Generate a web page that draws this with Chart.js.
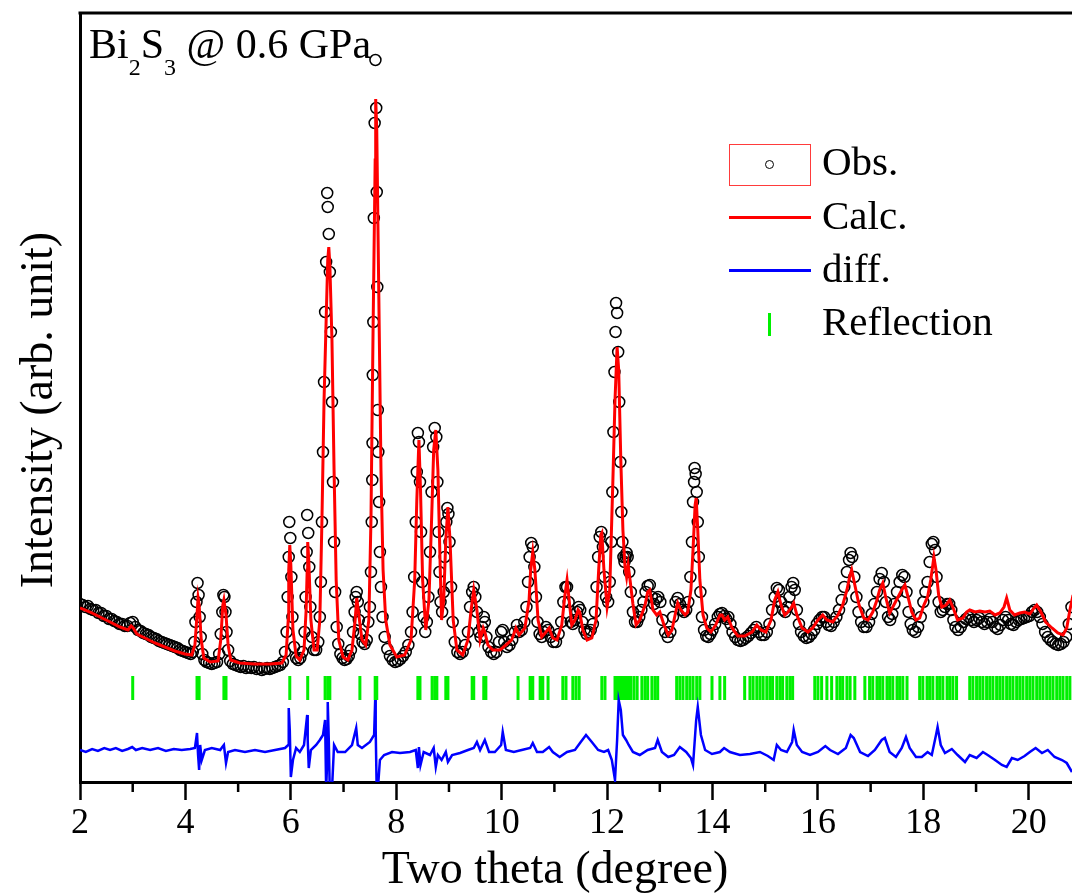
<!DOCTYPE html>
<html>
<head>
<meta charset="utf-8">
<script src="https://cdn.jsdelivr.net/npm/chart.js@4.4.0/dist/chart.umd.min.js"></script>
<style>
    html, body { margin: 0; padding: 0; background: #fff; }
    #wrap { position: relative; width: 1072px; height: 895px; overflow: hidden; font-family: 'Liberation Serif', 'Times New Roman', serif; color: #000; }
    #chart { position: absolute; left: 0; top: 0; }
    .txt { position: absolute; white-space: nowrap; line-height: 1; }
    .sub { font-size: 24px; position: relative; top: 17px; }
    .mark { position: absolute; box-sizing: border-box; }
    .axis-title { position: absolute; width: 500px; height: 46px; text-align: center; font-size: 46px; line-height: 1; white-space: nowrap; }
</style>
</head>
<body>
<div id="wrap">
    <canvas id="chart" width="1072" height="895"></canvas>
    <div class="txt" style="left:89px; top:23px; font-size:42px;">Bi<span class="sub">2</span>S<span class="sub">3</span> @ 0.6 GPa</div>

    <div class="mark" style="left:729px; top:144px; width:82px; height:42px; border:1.5px solid #ff3b3b;"></div>
    <div class="mark" style="left:765px; top:160px; width:9px; height:9px; border:1px solid #000; border-radius:50%;"></div>
    <div class="txt" style="left:822px; top:141px; font-size:41px;">Obs.</div>
    <div class="mark" style="left:729px; top:216px; width:82px; height:3px; background:#ff0000;"></div>
    <div class="txt" style="left:822px; top:195px; font-size:41px;">Calc.</div>
    <div class="mark" style="left:729px; top:269px; width:82px; height:3px; background:#0000ff;"></div>
    <div class="txt" style="left:822px; top:248px; font-size:41px;">diff.</div>
    <div class="mark" style="left:768px; top:313px; width:3px; height:23px; background:#00f000;"></div>
    <div class="txt" style="left:822px; top:301px; font-size:41px;">Reflection</div>

    <div class="axis-title" style="left:305px; top:845px;">Two theta (degree)</div>
    <div class="axis-title" style="left:-213px; top:387px; transform:rotate(-90deg);">Intensity (arb. unit)</div>
</div>
<script>
// two theta range shown (right edge of the frame is cut off)
const X_MIN = 2;
const X_MAX = 20.82;
const Y_MIN = 0;
const Y_MAX = 769;
const MAJOR_STEP = 2;
const MINOR_TICKS = [3, 5, 7, 9, 11, 13, 15, 17, 19];

// observed pattern [2theta, intensity]
const obsPoints = [
    [2.00,178],[2.05,177],[2.10,175],[2.15,176],[2.20,173],[2.25,172],[2.30,172],[2.35,169],[2.40,169],[2.45,166],
    [2.50,166],[2.55,163],[2.60,163],[2.65,161],[2.70,160],[2.75,158],[2.80,158],[2.85,156],[2.90,156],[2.95,159],
    [3.00,160],[3.05,155],[3.10,152],[3.15,151],[3.20,149],[3.25,148],[3.30,147],[3.35,145],[3.40,144],[3.45,143],
    [3.50,141],[3.55,140],[3.60,139],[3.65,138],[3.70,137],[3.75,136],[3.80,135],[3.85,134],[3.90,132],[3.95,131],
    [4.00,130],[4.05,129],[4.10,128],[4.14,130],[4.17,140],[4.19,160],[4.21,180],[4.23,199],[4.25,187],[4.27,165],
    [4.29,145],[4.32,128],[4.36,122],[4.40,120],[4.45,119],[4.50,118],[4.55,119],[4.60,120],[4.64,128],[4.67,148],
    [4.70,170],[4.72,187],[4.74,185],[4.76,170],[4.78,150],[4.81,132],[4.85,121],[4.90,118],[4.95,117],[5.00,116],
    [5.05,115],[5.10,116],[5.15,114],[5.20,115],[5.25,114],[5.30,115],[5.35,113],[5.40,114],[5.45,112],[5.50,113],
    [5.55,114],[5.60,113],[5.65,114],[5.70,115],[5.75,116],[5.80,117],[5.85,120],[5.89,130],[5.92,150],[5.94,185],
    [5.96,225],[5.97,260],[5.99,244],[6.01,205],[6.03,165],[6.06,135],[6.10,124],[6.14,122],[6.18,124],[6.22,130],
    [6.26,150],[6.28,185],[6.30,230],[6.31,267],[6.33,249],[6.35,215],[6.37,175],[6.40,145],[6.44,132],[6.48,132],
    [6.52,140],[6.55,165],[6.57,200],[6.59,260],[6.61,330],[6.63,400],[6.65,470],[6.67,520],[6.69,589],[6.70,575],
    [6.72,548],[6.74,510],[6.76,450],[6.78,380],[6.80,300],[6.82,240],[6.84,190],[6.87,155],[6.90,138],[6.94,128],
    [6.98,124],[7.02,122],[7.06,123],[7.10,126],[7.14,132],[7.18,150],[7.21,170],[7.23,185],[7.25,190],[7.27,180],
    [7.29,162],[7.32,148],[7.36,140],[7.40,138],[7.44,142],[7.47,160],[7.50,175],[7.52,210],[7.535,260],[7.545,302],
    [7.55,339],[7.555,407],[7.565,460],[7.575,564],[7.59,659],[7.605,722],[7.62,674],[7.63,590],[7.64,495],[7.65,372],
    [7.66,330],[7.675,280],[7.69,230],[7.71,195],[7.74,165],[7.78,145],[7.83,133],[7.88,126],[7.93,122],[7.98,120],
    [8.03,121],[8.08,123],[8.13,126],[8.18,130],[8.23,137],[8.28,150],[8.31,170],[8.34,205],[8.37,260],[8.39,310],
    [8.41,349],[8.43,340],[8.45,300],[8.47,250],[8.49,200],[8.52,165],[8.55,150],[8.58,160],[8.61,185],[8.64,230],
    [8.67,290],[8.70,335],[8.73,354],[8.76,345],[8.78,300],[8.80,250],[8.82,210],[8.84,180],[8.87,170],[8.90,190],
    [8.92,225],[8.95,260],[8.97,274],[8.99,268],[9.01,240],[9.04,195],[9.07,160],[9.11,140],[9.16,130],[9.21,128],
    [9.26,130],[9.31,137],[9.36,150],[9.40,175],[9.44,190],[9.47,195],[9.50,185],[9.53,170],[9.57,150],[9.60,145],
    [9.63,155],[9.66,165],[9.68,160],[9.71,145],[9.75,135],[9.80,130],[9.85,128],[9.90,130],[9.95,140],[9.99,150],
    [10.02,152],[10.05,140],[10.10,135],[10.15,137],[10.20,142],[10.25,150],[10.29,157],[10.33,150],[10.38,152],[10.43,160],
    [10.47,175],[10.50,200],[10.53,225],[10.56,239],[10.59,235],[10.62,215],[10.65,185],[10.68,160],[10.72,148],[10.76,145],
    [10.80,150],[10.84,155],[10.88,152],[10.93,145],[10.98,140],[11.03,140],[11.08,148],[11.13,160],[11.17,180],[11.21,195],
    [11.24,195],[11.27,180],[11.31,160],[11.35,158],[11.39,162],[11.43,170],[11.46,175],[11.49,172],[11.53,160],[11.57,152],
    [11.61,148],[11.65,150],[11.69,152],[11.73,158],[11.77,170],[11.80,195],[11.83,225],[11.86,245],[11.89,250],[11.92,235],
    [11.95,205],[11.98,185],[12.02,180],[12.05,200],[12.08,240],[12.10,290],[12.12,350],[12.14,410],[12.16,450],[12.17,479],
    [12.19,469],[12.21,430],[12.23,380],[12.25,320],[12.27,270],[12.29,240],[12.31,225],[12.33,220],[12.35,225],[12.37,229],
    [12.39,225],[12.42,210],[12.45,190],[12.49,170],[12.53,160],[12.57,160],[12.61,165],[12.65,172],[12.69,180],[12.73,190],
    [12.77,196],[12.81,197],[12.85,185],[12.89,178],[12.93,183],[12.97,185],[13.01,180],[13.05,162],[13.10,150],[13.15,145],
    [13.20,150],[13.25,165],[13.30,180],[13.34,184],[13.38,178],[13.42,172],[13.46,170],[13.50,172],[13.54,180],[13.58,205],
    [13.61,240],[13.63,280],[13.65,300],[13.66,314],[13.68,308],[13.70,290],[13.72,260],[13.74,225],[13.77,190],[13.80,165],
    [13.84,152],[13.88,146],[13.92,145],[13.96,148],[14.00,152],[14.05,158],[14.10,165],[14.14,168],[14.18,169],[14.22,166],
    [14.26,163],[14.30,165],[14.34,158],[14.38,150],[14.43,145],[14.48,142],[14.53,141],[14.58,142],[14.63,144],[14.68,146],
    [14.73,149],[14.78,152],[14.83,155],[14.88,150],[14.93,147],[14.98,147],[15.03,150],[15.08,158],[15.13,172],[15.18,185],
    [15.22,194],[15.26,192],[15.30,180],[15.34,172],[15.38,170],[15.42,175],[15.46,185],[15.50,195],[15.53,199],[15.56,192],
    [15.60,172],[15.64,158],[15.68,150],[15.73,146],[15.78,144],[15.83,145],[15.88,148],[15.93,152],[15.98,158],[16.03,162],
    [16.08,165],[16.12,165],[16.16,160],[16.20,157],[16.25,156],[16.30,160],[16.35,165],[16.40,172],[16.45,182],[16.50,195],
    [16.55,210],[16.59,222],[16.62,229],[16.65,225],[16.69,205],[16.73,185],[16.77,170],[16.82,160],[16.87,155],[16.92,155],
    [16.97,160],[17.02,168],[17.07,178],[17.12,190],[17.17,203],[17.21,209],[17.25,200],[17.29,180],[17.33,165],[17.37,162],
    [17.41,168],[17.45,178],[17.50,190],[17.55,200],[17.60,207],[17.64,205],[17.68,190],[17.72,170],[17.76,158],[17.80,152],
    [17.85,150],[17.90,155],[17.95,165],[18.00,180],[18.04,190],[18.08,200],[18.12,220],[18.16,238],[18.19,240],[18.22,232],
    [18.25,205],[18.29,180],[18.33,170],[18.37,172],[18.41,175],[18.45,178],[18.49,178],[18.53,172],[18.57,162],[18.61,155],
    [18.66,152],[18.71,155],[18.76,160],[18.81,163],[18.86,165],[18.91,162],[18.96,160],[19.01,162],[19.06,164],[19.11,160],
    [19.16,158],[19.21,160],[19.26,163],[19.31,160],[19.36,155],[19.41,153],[19.46,157],[19.51,162],[19.56,165],[19.61,162],
    [19.66,158],[19.71,157],[19.76,160],[19.81,162],[19.86,163],[19.91,164],[19.96,165],[20.01,166],[20.06,170],[20.11,172],
    [20.16,170],[20.21,165],[20.26,158],[20.31,150],[20.36,145],[20.41,142],[20.46,140],[20.51,138],[20.56,137],[20.61,138],
    [20.66,140],[20.71,145],[20.76,158],[20.81,175]
];

// refined (calculated) profile
const calcPoints = [
    [2.00,174],[2.19,170],[2.38,165],[2.57,160],[2.76,155],[2.91,152],[2.97,156],[3.01,154],[3.08,148],[3.23,144],
    [3.42,139],[3.61,135],[3.80,131],[3.99,128],[4.12,127],[4.18,137],[4.22,167],[4.24,184],[4.26,177],[4.30,142],
    [4.35,124],[4.47,120],[4.62,121],[4.67,142],[4.71,177],[4.73,182],[4.77,167],[4.81,137],[4.86,122],[5.03,119],
    [5.32,118],[5.60,118],[5.83,119],[5.91,127],[5.95,162],[5.96,212],[5.98,237],[6.00,217],[6.04,152],[6.10,126],
    [6.17,122],[6.25,132],[6.29,172],[6.31,212],[6.32,240],[6.34,222],[6.38,162],[6.44,132],[6.50,132],[6.55,162],
    [6.59,262],[6.63,382],[6.67,462],[6.70,522],[6.72,535],[6.74,517],[6.78,442],[6.82,312],[6.86,202],[6.91,142],
    [6.99,125],[7.08,122],[7.16,132],[7.22,162],[7.25,184],[7.29,167],[7.35,142],[7.42,137],[7.48,162],[7.52,262],
    [7.56,452],[7.60,622],[7.61,683],[7.63,652],[7.67,482],[7.71,312],[7.75,212],[7.80,162],[7.88,137],[8.01,125],
    [8.16,127],[8.28,142],[8.35,202],[8.39,282],[8.43,342],[8.46,292],[8.50,202],[8.56,152],[8.62,182],[8.67,262],
    [8.71,332],[8.75,352],[8.79,312],[8.83,222],[8.86,162],[8.90,182],[8.94,242],[8.98,275],[9.02,242],[9.08,162],
    [9.15,132],[9.26,127],[9.36,142],[9.42,172],[9.47,192],[9.53,172],[9.59,142],[9.65,154],[9.68,150],[9.74,137],
    [9.83,132],[9.97,132],[10.08,137],[10.19,142],[10.27,154],[10.33,147],[10.44,154],[10.52,182],[10.55,212],[10.59,230],
    [10.63,212],[10.69,162],[10.76,145],[10.84,150],[10.90,154],[10.97,144],[11.05,142],[11.14,157],[11.20,187],[11.24,202],
    [11.28,182],[11.33,157],[11.39,162],[11.45,172],[11.48,170],[11.54,152],[11.62,142],[11.71,144],[11.79,162],[11.84,212],
    [11.88,247],[11.90,249],[11.94,212],[12.00,175],[12.05,192],[12.11,302],[12.15,382],[12.19,435],[12.22,412],[12.26,322],
    [12.30,252],[12.34,215],[12.37,205],[12.40,217],[12.44,200],[12.49,178],[12.55,157],[12.62,162],[12.72,177],[12.77,190],
    [12.81,192],[12.87,172],[12.94,167],[13.00,170],[13.08,157],[13.16,147],[13.23,152],[13.31,172],[13.34,179],[13.40,172],
    [13.48,167],[13.53,170],[13.59,192],[13.63,232],[13.67,277],[13.69,284],[13.72,252],[13.76,202],[13.82,167],[13.89,154],
    [13.97,150],[14.06,157],[14.14,167],[14.18,167],[14.23,162],[14.29,165],[14.37,154],[14.48,146],[14.61,146],[14.75,150],
    [14.84,157],[14.92,152],[15.01,150],[15.11,162],[15.18,182],[15.24,190],[15.30,177],[15.37,167],[15.43,170],[15.49,174],
    [15.54,179],[15.60,167],[15.70,154],[15.81,150],[15.90,154],[16.00,162],[16.09,167],[16.17,162],[16.28,160],[16.38,167],
    [16.47,177],[16.55,192],[16.61,207],[16.64,212],[16.70,197],[16.78,177],[16.87,164],[16.95,162],[17.04,170],[17.12,182],
    [17.17,192],[17.23,199],[17.29,184],[17.36,169],[17.44,177],[17.51,184],[17.59,192],[17.65,197],[17.70,187],[17.78,170],
    [17.86,162],[17.93,164],[18.01,177],[18.08,185],[18.14,202],[18.20,225],[18.24,212],[18.29,187],[18.35,175],[18.43,177],
    [18.50,182],[18.58,172],[18.65,162],[18.75,164],[18.82,170],[18.88,172],[18.98,170],[19.07,171],[19.17,170],[19.26,171],
    [19.36,167],[19.45,169],[19.53,175],[19.58,184],[19.64,172],[19.73,167],[19.83,169],[19.92,170],[20.02,168],[20.10,174],
    [20.15,177],[20.23,170],[20.32,160],[20.44,154],[20.55,149],[20.65,147],[20.72,154],[20.78,172],[20.84,187]
];

// difference curve (offset below the pattern)
const diffPoints = [
    [2.00,32],[2.11,30],[2.23,33],[2.34,31],[2.46,34],[2.57,32],[2.68,34],[2.80,31],[2.91,33],[2.99,35],
    [3.06,32],[3.18,34],[3.33,32],[3.48,34],[3.63,31],[3.78,33],[3.93,32],[4.09,33],[4.18,34],[4.22,49],
    [4.24,27],[4.26,12],[4.28,37],[4.31,22],[4.37,32],[4.50,34],[4.66,32],[4.70,35],[4.73,37],[4.77,19],
    [4.81,30],[4.94,32],[5.13,30],[5.32,32],[5.51,30],[5.70,32],[5.89,34],[5.95,37],[5.96,74],[5.98,52],
    [6.00,5],[6.04,22],[6.10,34],[6.17,30],[6.25,37],[6.31,67],[6.32,42],[6.34,14],[6.38,32],[6.48,37],
    [6.55,42],[6.61,47],[6.65,62],[6.67,-8],[6.69,22],[6.70,80],[6.72,42],[6.74,-13],[6.78,-8],[6.82,37],
    [6.89,30],[7.03,30],[7.16,37],[7.24,54],[7.27,37],[7.35,34],[7.50,40],[7.58,47],[7.60,82],[7.61,52],
    [7.63,-13],[7.65,-8],[7.69,22],[7.77,27],[7.92,30],[8.07,29],[8.26,30],[8.37,32],[8.41,14],[8.43,35],
    [8.46,17],[8.52,30],[8.64,27],[8.71,34],[8.75,15],[8.79,27],[8.86,22],[8.94,30],[8.98,20],[9.06,27],
    [9.21,29],[9.36,32],[9.47,34],[9.53,40],[9.59,32],[9.68,42],[9.76,30],[9.87,30],[9.99,37],[10.02,50],
    [10.08,32],[10.23,30],[10.38,32],[10.54,34],[10.59,39],[10.67,30],[10.78,30],[10.90,35],[10.97,30],[11.10,25],
    [11.24,30],[11.39,32],[11.50,40],[11.60,47],[11.71,40],[11.83,32],[11.94,30],[12.02,32],[12.09,22],[12.15,2],
    [12.19,42],[12.22,82],[12.26,72],[12.30,47],[12.36,42],[12.41,37],[12.49,30],[12.62,27],[12.77,32],[12.91,34],
    [12.96,42],[13.04,30],[13.16,25],[13.27,27],[13.38,35],[13.50,30],[13.59,24],[13.63,17],[13.69,62],[13.72,75],
    [13.78,47],[13.86,32],[13.99,28],[14.14,30],[14.22,34],[14.33,30],[14.52,27],[14.71,28],[14.90,30],[15.05,26],
    [15.16,22],[15.22,37],[15.30,32],[15.41,30],[15.51,40],[15.54,52],[15.60,37],[15.70,30],[15.85,27],[16.00,30],
    [16.14,36],[16.23,32],[16.38,28],[16.53,34],[16.62,47],[16.68,44],[16.80,30],[16.95,26],[17.08,32],[17.21,42],
    [17.27,44],[17.36,30],[17.48,25],[17.59,34],[17.67,45],[17.74,34],[17.86,25],[17.97,25],[18.08,30],[18.16,27],
    [18.24,47],[18.27,55],[18.33,37],[18.41,29],[18.54,33],[18.65,27],[18.79,20],[18.88,27],[19.01,24],[19.13,30],
    [19.22,27],[19.36,22],[19.49,17],[19.58,15],[19.68,24],[19.79,22],[19.92,26],[20.02,30],[20.13,34],[20.25,29],
    [20.36,32],[20.49,25],[20.63,22],[20.72,19],[20.82,10]
];

// Bragg reflection positions (2theta)
const reflTheta = [
    3.00, 4.22, 4.26, 4.73, 4.77, 5.98, 6.32, 6.65, 6.70, 6.74, 7.31, 7.60, 7.63,
    8.41, 8.45, 8.68, 8.73, 8.77, 8.94, 8.98, 9.44, 9.47, 9.66, 9.70, 10.31,
    10.54, 10.57, 10.59, 10.73, 10.76, 10.78, 10.88, 11.16, 11.22, 11.35, 11.41, 11.47,
    11.90, 11.96, 12.15, 12.19, 12.22, 12.26, 12.30, 12.34, 12.38, 12.41, 12.45, 12.51, 12.57,
    12.66, 12.72, 12.77, 12.85, 12.91, 12.96, 13.32, 13.38, 13.44, 13.51, 13.57, 13.63, 13.70, 13.76,
    13.99, 14.14, 14.23, 14.61, 14.71, 14.77, 14.84, 14.90, 14.96, 15.03, 15.09, 15.14, 15.22,
    15.28, 15.33, 15.41, 15.47, 15.52, 15.94, 16.00, 16.07, 16.17, 16.26, 16.36, 16.42, 16.47,
    16.55, 16.61, 16.70, 16.89, 16.98, 17.04, 17.12, 17.17, 17.23, 17.31, 17.36, 17.42, 17.50,
    17.55, 17.61, 17.69, 17.93, 17.99, 18.07, 18.12, 18.18, 18.26, 18.31, 18.37, 18.45, 18.50,
    18.56, 18.63, 18.88, 18.94, 19.01, 19.07, 19.13, 19.20, 19.26, 19.32, 19.39, 19.45, 19.51,
    19.58, 19.64, 19.70, 19.77, 19.83, 19.89, 19.96, 20.02, 20.08, 20.15, 20.21, 20.27, 20.34,
    20.40, 20.46, 20.53, 20.59, 20.65, 20.72, 20.78
];
const REFL_LEVEL = 94;

const SERIF = "'Liberation Serif', 'Times New Roman', serif";

const frame = {
    id: 'frame',
    afterDraw(chart) {
        const { ctx, chartArea, scales } = chart;
        ctx.save();
        ctx.strokeStyle = '#000';
        ctx.lineWidth = 3;
        ctx.beginPath();
        ctx.moveTo(chartArea.left - 1.5, chartArea.top);
        ctx.lineTo(chartArea.right, chartArea.top);
        ctx.stroke();
        // minor ticks on the two theta axis
        ctx.lineWidth = 2.5;
        MINOR_TICKS.forEach(v => {
            const px = scales.x.getPixelForValue(v);
            ctx.beginPath();
            ctx.moveTo(px, chartArea.bottom);
            ctx.lineTo(px, chartArea.bottom + 10);
            ctx.stroke();
        });
        ctx.restore();
    }
};

const toXY = arr => arr.map(p => ({ x: p[0], y: p[1] }));

new Chart(document.getElementById('chart'), {
    type: 'scatter',
    data: {
        datasets: [
            {
                label: 'Calc.',
                type: 'line',
                data: toXY(calcPoints),
                borderColor: '#ff0000',
                borderWidth: 3,
                pointRadius: 0,
                tension: 0,
                order: 1,
            },
            {
                label: 'Obs.',
                data: toXY(obsPoints),
                pointStyle: 'circle',
                pointRadius: 5.5,
                borderColor: '#000',
                borderWidth: 1.5,
                backgroundColor: 'rgba(255,255,255,0)',
                order: 2,
            },
            {
                label: 'diff.',
                type: 'line',
                data: toXY(diffPoints),
                borderColor: '#0000ff',
                borderWidth: 2.5,
                pointRadius: 0,
                tension: 0,
                order: 3,
            },
            {
                label: 'Reflection',
                data: reflTheta.map(t => ({ x: t, y: REFL_LEVEL })),
                pointStyle: 'line',
                rotation: 90,
                pointRadius: 12,
                borderColor: '#00f000',
                borderWidth: 3,
                order: 4,
            },
        ],
    },
    options: {
        responsive: false,
        animation: false,
        devicePixelRatio: 1,
        layout: { autoPadding: false, padding: { top: 13, right: 0, left: 0, bottom: 0 } },
        plugins: { legend: { display: false }, tooltip: { enabled: false } },
        scales: {
            x: {
                type: 'linear',
                min: X_MIN,
                max: X_MAX,
                afterFit: s => { s.height = 113; },
                ticks: {
                    stepSize: MAJOR_STEP,
                    includeBounds: false,
                    autoSkip: false,
                    maxRotation: 0,
                    padding: 2,
                    color: '#000',
                    font: { family: SERIF, size: 36 },
                    callback: v => v,
                },
                grid: { drawOnChartArea: false, drawTicks: true, tickLength: 18, tickWidth: 2.5, tickColor: '#000' },
                border: { display: true, color: '#000', width: 3 },
            },
            y: {
                type: 'linear',
                min: Y_MIN,
                max: Y_MAX,
                afterFit: s => { s.width = 80; },
                ticks: { display: false },
                grid: { display: false, drawTicks: false },
                border: { display: true, color: '#000', width: 3 },
            },
        },
    },
    plugins: [frame],
});
</script>
</body>
</html>
